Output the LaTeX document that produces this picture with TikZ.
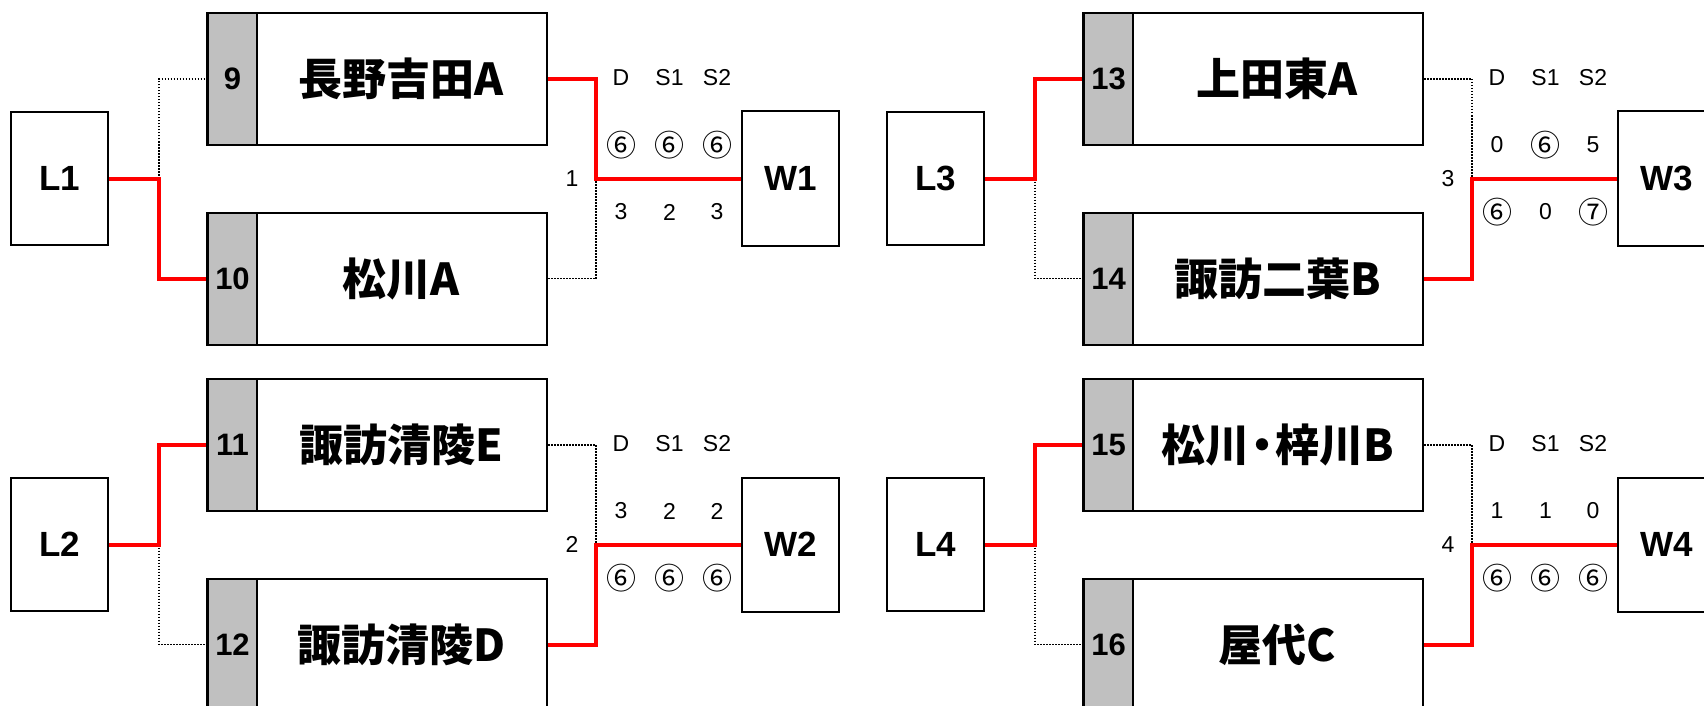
\documentclass[tikz,border=0pt]{standalone}
\usepackage{fontspec}
\setmainfont{Liberation Sans}
\newfontfamily\jpfont{Noto Sans CJK JP}
\definecolor{cellgray}{HTML}{C0C0C0}
\newcommand\bigfont{\fontsize{35}{35}\selectfont\bfseries}
\newcommand\namefont{\jpfont\bfseries\fontsize{44}{44}\selectfont}
\newcommand\numfont{\fontsize{31}{31}\selectfont\bfseries}
\newcommand\scfont{\fontsize{23}{23}\selectfont}
\newcommand\cn[1]{{\jpfont\fontsize{30}{30}\selectfont #1}}
\newcommand\mkblock[9]{%
 \begin{scope}[shift={(#1,#2)}]
  \node[lbox] (#3) at (59.5,178.5) {#3};
  \node[wbox] (#4) at (790.5,178.5) {#4};
  \node[team] (t#5) at (377,79) {};
  \node[numcell] (n#5) at (207,79) {#5};
  \node[tname] (nm#5) at (401.5,79) {#7};
  \node[team] (t#6) at (377,278.5) {};
  \node[numcell] (n#6) at (207,278.5) {#6};
  \node[tname] (nm#6) at (401.5,278.5) {#8};
  \coordinate (j#9) at (159,178.5);
  \coordinate (k#9) at (596,178.5);
  \node[sc] (m#9) at (572,178.5) {#9};
  \node[sc] (hd#9) at (621,78) {D};
  \node[sc] (hs#9) at (669.5,78) {S1};
  \node[sc] (ht#9) at (717,78) {S2};
 \end{scope}}
\newcommand\mkscores[9]{%
 \begin{scope}[shift={(#1,#2)}]
  \node[sc] (u1m#3) at (621,145) {#4};
  \node[sc] (u2m#3) at (669.5,145) {#5};
  \node[sc] (u3m#3) at (717,145) {#6};
  \node[sc] (l1m#3) at (621,212) {#7};
  \node[sc] (l2m#3) at (669.5,212) {#8};
  \node[sc] (l3m#3) at (717,212) {#9};
 \end{scope}}
\begin{document}
\begin{tikzpicture}[x=1pt,y=-1pt,
  box/.style={draw, line width=2pt, inner sep=0pt},
  lbox/.style={box, minimum width=97pt, minimum height=133pt, font=\bigfont},
  wbox/.style={box, minimum width=97pt, minimum height=134pt, font=\bigfont},
  team/.style={box, minimum width=340pt, minimum height=132pt},
  numcell/.style={box, fill=cellgray, minimum width=49pt, minimum height=132pt, anchor=west, font=\numfont},
  tname/.style={font=\namefont, inner sep=0pt},
  sc/.style={font=\scfont, inner sep=0pt},
  win/.style={draw=red, line width=4pt},
  lose/.style={draw=black, line width=1.5pt, dash pattern=on 1.5pt off 1.5pt},
]
\useasboundingbox (0,0) rectangle (1704,706);
\mkblock{0}{0}{L1}{W1}{9}{10}{長野吉田A}{松川A}{1}
\mkblock{0}{366}{L2}{W2}{11}{12}{諏訪清陵E}{諏訪清陵D}{2}
\mkblock{876}{0}{L3}{W3}{13}{14}{上田東A}{諏訪二葉B}{3}
\mkblock{876}{366}{L4}{W4}{15}{16}{松川\kern-9pt・\kern-9pt梓川B}{屋代C}{4}
\mkscores{0}{0}{1}{\cn{⑥}}{\cn{⑥}}{\cn{⑥}}{3}{2}{3}
\mkscores{0}{366}{2}{3}{2}{2}{\cn{⑥}}{\cn{⑥}}{\cn{⑥}}
\mkscores{876}{0}{3}{0}{\cn{⑥}}{5}{\cn{⑥}}{0}{\cn{⑦}}
\mkscores{876}{366}{4}{1}{1}{0}{\cn{⑥}}{\cn{⑥}}{\cn{⑥}}
% match 1
\draw[lose] (j1) |- (t9.west);
\draw[win] (L1.east) -- (j1) |- (t10.west);
\draw[lose] (t10.east) -| (k1);
\draw[win] (t9.east) -| (k1) -- (W1.west);
% match 2
\draw[lose] (j2) |- (t12.west);
\draw[win] (L2.east) -- (j2) |- (t11.west);
\draw[lose] (t11.east) -| (k2);
\draw[win] (t12.east) -| (k2) -- (W2.west);
% match 3
\draw[lose] (j3) |- (t14.west);
\draw[win] (L3.east) -- (j3) |- (t13.west);
\draw[lose] (t13.east) -| (k3);
\draw[win] (t14.east) -| (k3) -- (W3.west);
% match 4
\draw[lose] (j4) |- (t16.west);
\draw[win] (L4.east) -- (j4) |- (t15.west);
\draw[lose] (t15.east) -| (k4);
\draw[win] (t16.east) -| (k4) -- (W4.west);
\end{tikzpicture}
\end{document}
